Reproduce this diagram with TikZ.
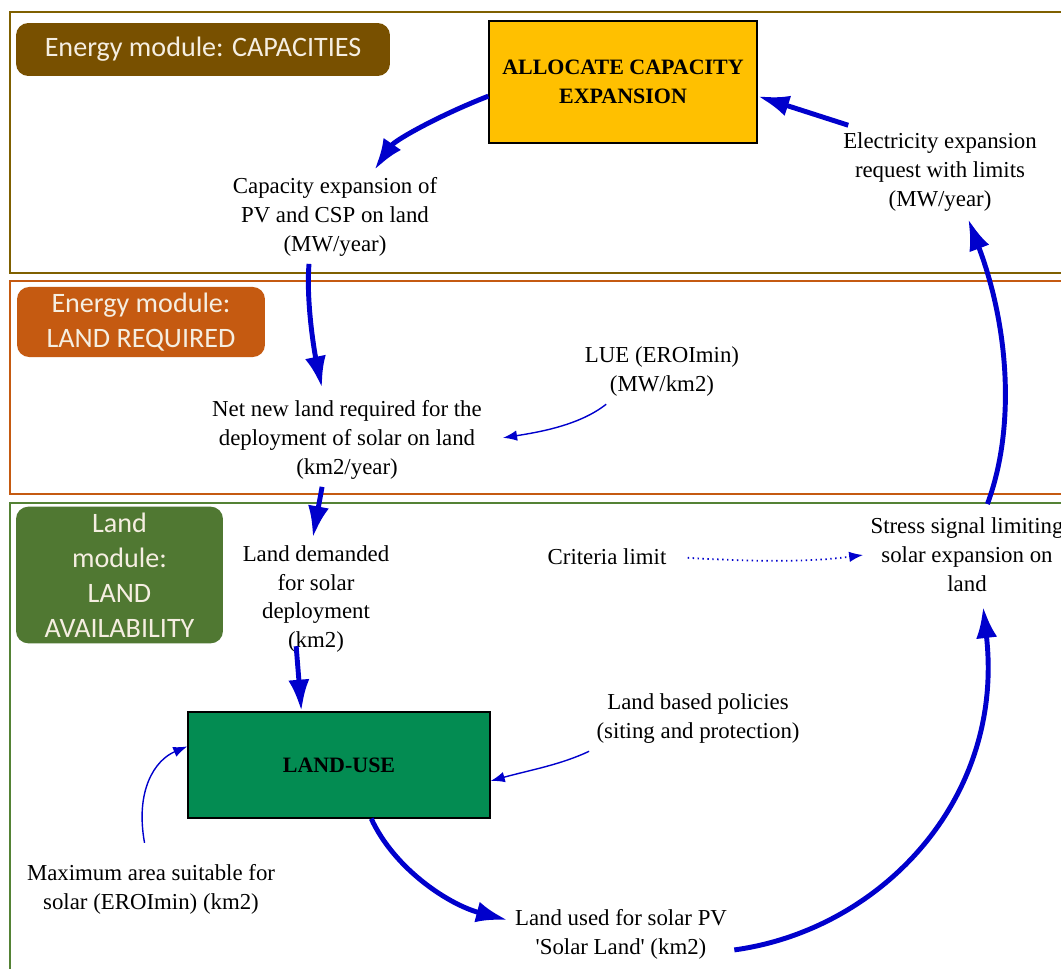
\documentclass[tikz,border=0pt]{standalone}
\usepackage{fontspec}
\setmainfont{Liberation Serif}
\newfontfamily\modfont{Carlito}
\usetikzlibrary{arrows.meta}

\definecolor{capbrown}{RGB}{127,96,0}
\definecolor{capfill}{RGB}{120,80,0}
\definecolor{reqorange}{RGB}{197,90,17}
\definecolor{availgreen}{RGB}{84,130,53}
\definecolor{availfill}{RGB}{80,120,50}
\definecolor{allocfill}{RGB}{255,192,0}
\definecolor{landfill}{RGB}{3,140,82}
\definecolor{flowblue}{RGB}{0,0,204}
\definecolor{modtext}{RGB}{245,238,225}

\tikzset{
  lbl/.style={align=center, inner sep=4pt, font=\fontsize{13}{16.5}\selectfont},
  modlbl/.style={rounded corners=7pt, text=modtext, align=center, font=\modfont\fontsize{16}{20}\selectfont},
  stockbox/.style={draw=black, thick, align=center, font=\bfseries\fontsize{12.5}{16.5}\selectfont},
  flow/.style={draw=flowblue, line width=2.8pt, -{Latex[length=18pt,width=12pt]}},
  link/.style={draw=flowblue, line width=0.8pt, -{Latex[length=8pt,width=6pt]}},
}

\begin{document}
\begin{tikzpicture}[x=0.02cm,y=-0.02cm]
\useasboundingbox (0,0) rectangle (1061,969);

% module frames
\draw[capbrown, line width=1.6pt] (1061,12) -| (10,273) -- (1061,273);
\draw[reqorange, line width=1.6pt] (1061,281) -| (10,494) -- (1061,494);
\draw[availgreen, line width=1.6pt] (1061,503) -| (10,975);

% module labels
\node[modlbl, fill=capfill, minimum width=7.48cm, minimum height=1.06cm] (modcap) at (203,49.5) {Energy module: CAPACITIES};
\node[modlbl, fill=reqorange, minimum width=4.96cm, minimum height=1.4cm] (modreq) at (141,322) {Energy module:\\LAND REQUIRED};
\node[modlbl, fill=availfill, minimum width=4.14cm, minimum height=2.68cm] (modavail) at (119.5,575) {Land\\module:\\LAND\\AVAILABILITY};

% stocks
\node[stockbox, fill=allocfill, minimum width=5.36cm, minimum height=2.44cm] (alloc) at (623,82) {ALLOCATE CAPACITY\\EXPANSION};
\node[stockbox, fill=landfill, minimum width=6.04cm, minimum height=2.12cm] (landuse) at (339,765) {LAND-USE};

% variables
\node[lbl] (cap) at (335,217) {Capacity expansion of\\PV and CSP on land\\(MW/year)};
\node[lbl] (elec) at (940,172) {Electricity expansion\\request with limits\\(MW/year)};
\node[lbl] (lue) at (662,372) {LUE (EROImin)\\(MW/km2)};
\node[lbl] (net) at (347,440) {Net new land required for the\\deployment of solar on land\\(km2/year)};
\node[lbl] (dem) at (316,599) {Land demanded\\for solar\\deployment\\(km2)};
\node[lbl] (crit) at (607,557) {Criteria limit};
\node[lbl] (stress) at (967,555) {Stress signal limiting\\solar expansion on\\land};
\node[lbl] (pol) at (698,719) {Land based policies\\(siting and protection)};
\node[lbl] (maxarea) at (151,889) {Maximum area suitable for\\solar (EROImin) (km2)};
\node[lbl] (solar) at (621,934) {Land used for solar PV\\\textquotesingle Solar Land\textquotesingle{} (km2)};

% main loop
\draw[flow] (alloc.186) .. controls (440,115) and (395,140) .. (cap.50);
\draw[flow, shorten >=3pt] (cap.241) .. controls (306,300) and (314,350) .. (net.117);
\draw[flow] (net.242) -- (dem.93);
\draw[flow, shorten <=-8pt] (dem.253) -- (landuse.125);
\draw[flow] (landuse.301) .. controls (395,870) and (450,905) .. (solar.173);
\draw[flow, shorten >=4pt] (solar.352) .. controls (880,930) and (1005,800) .. (stress.289);
\draw[flow, shorten <=4pt] (stress.68) .. controls (1015,430) and (1010,330) .. (elec.301);
\draw[flow] (elec.153) -- (alloc.354);

% side inputs
\draw[link, shorten >=8pt] (lue.210) .. controls (580,425) and (540,432) .. (net.east);
\draw[link] (pol.south west) .. controls (560,765) and (530,770) .. (landuse.354);
\draw[link, shorten <=8pt] (maxarea.97) .. controls (135,790) and (155,760) .. (landuse.173);
\draw[link, dotted, line width=1pt, shorten <=8pt] (crit.east) .. controls (760,562) and (810,562) .. (stress.west);
\end{tikzpicture}
\end{document}
